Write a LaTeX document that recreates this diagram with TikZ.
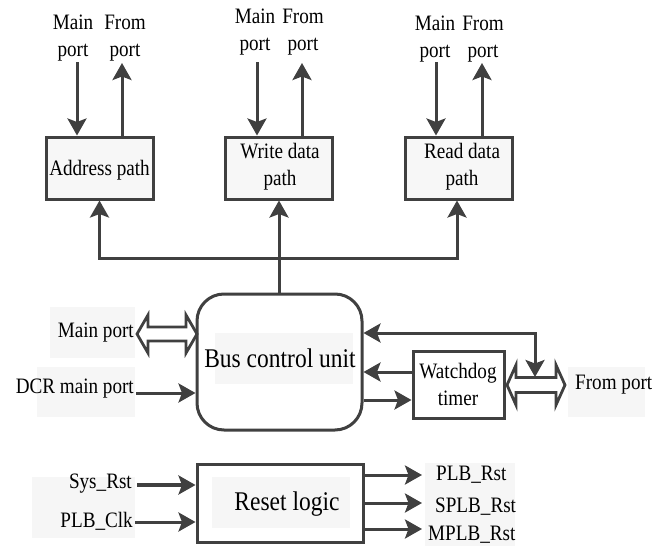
\documentclass[tikz,border=0pt]{standalone}
\usepackage{fontspec}
\usepackage{graphicx}
\setmainfont{Liberation Serif}
\usetikzlibrary{arrows.meta}
\definecolor{lc}{RGB}{64,64,64}
\definecolor{boxfill}{RGB}{247,247,247}
\definecolor{txtbg}{RGB}{246,246,246}
% slightly condensed text
\newcommand\nrw[1]{\scalebox{0.87}[1]{#1}}
\begin{document}
\begin{tikzpicture}[x=1pt,y=-1pt,
  tip/.tip={Stealth[length=17pt,width=19pt,inset=3.5pt]},
  wire/.style={draw=lc, line width=3pt, -tip},
  wirebi/.style={draw=lc, line width=3pt, tip-tip},
  lbl/.style={font=\fontsize{22}{27}\selectfont, inner sep=0pt, align=center},
  bigtxt/.style={font=\fontsize{27}{30}\selectfont, inner sep=0pt},
  pathbox/.style={draw=lc, fill=boxfill, line width=3pt, minimum width=107pt,
    minimum height=62pt, inner sep=0pt},
  dblarrow/.style={draw=lc, fill=white, line width=2.8pt, line join=miter},
  bg/.style={fill=txtbg, draw=none}
]
\useasboundingbox (0,0) rectangle (654,546);

% faint label backgrounds
\path[bg] (50,307) rectangle (135,358);
\path[bg] (37,367) rectangle (135,417);
\path[bg] (568,367) rectangle (645,417);
\path[bg] (32,477) rectangle (135,538);
\path[bg] (425,463) rectangle (515,546);

% data path blocks
\node[pathbox] (addr)  at (99.5,168) {};
\node[pathbox] (write) at (279,168) {};
\node[pathbox] (read)  at (458.5,168) {};
\node[lbl] (addrtxt)  at (99.5,170) {\nrw{Address path}};
\node[lbl] (writetxt) at (280,167) {\nrw{Write data}\\\nrw{path}};
\node[lbl] (readtxt)  at (462,167) {\nrw{Read data}\\\nrw{path}};

% port labels above the blocks
\node[lbl] (am) at (73,38) {\nrw{Main}\\\nrw{port}};
\node[lbl] (af) at (125,38) {\nrw{From}\\\nrw{port}};
\node[lbl] (wm) at (255,32) {\nrw{Main}\\\nrw{port}};
\node[lbl] (wf) at (303,32) {\nrw{From}\\\nrw{port}};
\node[lbl] (rm) at (435,39) {\nrw{Main}\\\nrw{port}};
\node[lbl] (rf) at (483,39) {\nrw{From}\\\nrw{port}};

\coordinate (amx) at (77,62);
\coordinate (afx) at (122,63);
\coordinate (wmx) at (257,62);
\coordinate (wfx) at (302,63);
\coordinate (rmx) at (436,62);
\coordinate (rfx) at (482,63);
\draw[wire] (amx) -- (amx |- addr.north);
\draw[wire] (afx |- addr.north) -- (afx);
\draw[wire] (wmx) -- (wmx |- write.north);
\draw[wire] (wfx |- write.north) -- (wfx);
\draw[wire] (rmx) -- (rmx |- read.north);
\draw[wire] (rfx |- read.north) -- (rfx);

% bus control unit
\path[fill=white] (197,294) rectangle (362,430);
\path[bg] (215,333) rectangle (353,384);
\node[draw=lc, line width=3pt, rounded corners=27pt, minimum width=165pt,
  minimum height=136pt, inner sep=0pt] (bus) at (279.5,362) {};
\node[bigtxt] (bustxt) at (280,358) {\nrw{Bus control unit}};

% distribution to the data path blocks
\coordinate (bj) at (279,258);
\draw[wire] (bus.north -| bj) -- (bj |- write.south);
\draw[wire] (bj) -| (addr.south);
\draw[wire] (bj) -| ([xshift=-1.5pt]read.south);

% main port and DCR port
\node[lbl, anchor=east] (mp) at (134,333) {\nrw{Main port}};
\node[lbl, anchor=east] (dcr) at (134,389) {\nrw{DCR main port}};
\coordinate (mpl) at (137,334);
\coordinate (mpr) at (197,334);
\path[dblarrow] (mpl) -- (148,315) -- (148,327) -- (186,327) -- (186,315)
  -- (mpr) -- (186,353) -- (186,341) -- (148,341) -- (148,353) -- cycle;
\coordinate (dcrx) at (136,393);
\draw[wire] (dcrx) -- (dcrx -| bus.west);

% watchdog timer
\node[draw=lc, line width=3pt, fill=white, minimum width=91pt, minimum height=67pt,
  inner sep=0pt] (wd) at (458.5,384.5) {};
\node[lbl] (wdtxt) at (458,384) {\nrw{Watchdog}\\\nrw{timer}};
\coordinate (w1) at (413,372);
\coordinate (w2) at (362,400);
\draw[wire] (w1) -- (w1 -| bus.east);
\draw[wire] (w2 -| bus.east) -- (w2 -| wd.west);

% slave side port
\coordinate (fpl) at (507,385);
\coordinate (fpr) at (565,385);
\path[dblarrow] (fpl) -- (516,365) -- (516,377.5) -- (556,377.5) -- (556,365)
  -- (fpr) -- (556,405) -- (556,392.5) -- (516,392.5) -- (516,405) -- cycle;
\node[lbl, anchor=west] (fp) at (575,385) {\nrw{From port}};
\coordinate (t1) at (362,333);
\coordinate (t2) at (535,377);
\draw[wirebi] (t1 -| bus.east) -| (t2);

% reset logic
\node[draw=lc, line width=3pt, fill=white, minimum width=166pt, minimum height=78pt,
  inner sep=0pt] (reset) at (280,503) {};
\path[bg] (212,477) rectangle (350,528);
\node[bigtxt] (resettxt) at (287,504) {\nrw{Reset logic}};

\node[lbl, anchor=east] (sys) at (132,484) {\nrw{Sys\_Rst}};
\node[lbl, anchor=east] (clk) at (133,521) {\nrw{PLB\_Clk}};
\coordinate (s1) at (137,485);
\coordinate (c1) at (135,522);
\draw[wire, line width=4.5pt] (s1) -- (s1 -| reset.west);
\draw[wire] (c1) -- (c1 -| reset.west);

\coordinate (o1) at (422,475);
\coordinate (o2) at (422,503);
\coordinate (o3) at (422,529);
\draw[wire] (o1 -| reset.east) -- (o1);
\draw[wire] (o2 -| reset.east) -- (o2);
\draw[wire] (o3 -| reset.east) -- (o3);
\node[lbl, anchor=west] (plbrst)  at (436,475) {\nrw{PLB\_Rst}};
\node[lbl, anchor=west] (splbrst) at (435,507) {\nrw{SPLB\_Rst}};
\node[lbl, anchor=west] (mplbrst) at (428,535) {\nrw{MPLB\_Rst}};
\end{tikzpicture}
\end{document}
